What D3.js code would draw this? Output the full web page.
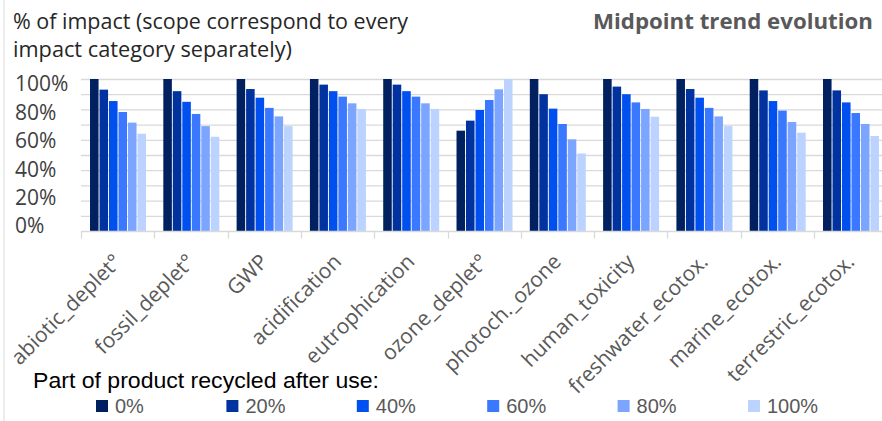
<!DOCTYPE html>
<html><head><meta charset="utf-8">
<script src="https://cdn.jsdelivr.net/npm/d3@7"></script>
<style>body{margin:0;background:#fff}svg{display:block}</style>
</head><body>
<svg id="c" width="882" height="421"></svg>
<script>
const categories = ["abiotic_deplet°","fossil_deplet°","GWP","acidification","eutrophication","ozone_deplet°","photoch._ozone","human_toxicity","freshwater_ecotox.","marine_ecotox.","terrestric_ecotox."];
const seriesNames = ["0%","20%","40%","60%","80%","100%"];
const s0   = [100,100,100,100,100,66,100,100,100,100,100];
const s20  = [93,92,93.4,96.3,96.3,72.6,90,95,93.4,92.5,92.5];
const s40  = [85.5,85,87.7,92,92,79.6,80.5,90,87.7,85.5,84.6];
const s60  = [78.3,77,81,88.4,88.4,86.2,70.4,84.6,81,79.2,77.6];
const s80  = [71.3,69,75.4,84,84,93.2,60.3,80.3,75.4,71.7,70.4];
const s100 = [64,62,69,80.3,80.3,100,51,75.2,69,64.7,62.5];
const yTicks = [0,20,40,60,80,100];
const colors = ["#002060","#0033A0","#0050F0","#3A78FF","#7CA5FF","#BDD3FF"];
const series = [s0,s20,s40,s60,s80,s100];

const svg = d3.select("#c");
const font = "'Open Sans', sans-serif";
const lfont = "'Liberation Sans', Arial, sans-serif";

const y = d3.scaleLinear().domain([0,100]).range([231,79]);
const yLab = d3.scaleLinear().domain([0,100]).range([226,84]);
const x0 = d3.scaleBand().domain(categories).range([81,887.3]).padding(0);
const bw = x0.bandwidth();
const x1 = d3.scaleBand().domain(seriesNames).range([bw*0.123, bw*0.887]).paddingInner(0.1);

// left border
svg.append("line").attr("x1",4).attr("x2",4).attr("y1",0).attr("y2",421).attr("stroke","#D9D9D9");

// gridlines
svg.append("g").selectAll("line").data(d3.range(10,101,10)).join("line")
  .attr("x1",81).attr("x2",887).attr("y1",d=>y(d)+0.5).attr("y2",d=>y(d)+0.5)
  .attr("stroke","#D9D9D9").attr("stroke-width",1.3);

// y labels
svg.append("g").selectAll("text").data(yTicks).join("text")
  .attr("x",15).attr("y",d=>yLab(d)).attr("dy","0.35em")
  .attr("font-family",font).attr("font-size",21).attr("fill","#404040")
  .text(d=>d+"%");

// bars
const g = svg.append("g").selectAll("g").data(categories).join("g")
  .attr("transform",d=>`translate(${x0(d)},0)`);
g.selectAll("rect").data((c,i)=>series.map((s,k)=>({k, v:s[i]}))).join("rect")
  .attr("x",d=>x1(seriesNames[d.k])).attr("width",x1.bandwidth())
  .attr("y",d=>y(d.v)).attr("height",d=>y(0)-y(d.v))
  .attr("fill",d=>colors[d.k]);

// x axis
const xAxis = svg.append("g").attr("transform","translate(0,231.5)");
xAxis.append("line").attr("x1",81).attr("x2",887).attr("stroke","#D9D9D9").attr("stroke-width",1.3);
xAxis.selectAll("line.t").data(categories.map(c=>x0(c))).join("line").attr("class","t")
  .attr("x1",d=>Math.round(d)+0.5).attr("x2",d=>Math.round(d)+0.5).attr("y1",0).attr("y2",7)
  .attr("stroke","#D9D9D9").attr("stroke-width",1.3);
xAxis.selectAll("text").data(categories).join("text")
  .attr("transform",d=>`translate(${x0(d)+bw/2+5},31.5) rotate(-45)`)
  .attr("text-anchor","end")
  .attr("font-family",font).attr("font-size",21).attr("fill","#595959")
  .text(d=>d);

// titles
const t1 = svg.append("text").attr("font-family",font).attr("font-size",21).attr("fill","#262626");
t1.append("tspan").attr("x",13).attr("y",29).attr("textLength",395).attr("lengthAdjust","spacingAndGlyphs").text("% of impact (scope correspond to every");
t1.append("tspan").attr("x",13).attr("y",57).attr("textLength",279).attr("lengthAdjust","spacingAndGlyphs").text("impact category separately)");
svg.append("text").attr("x",593).attr("y",29).attr("font-family",font).attr("font-size",21)
  .attr("font-weight","bold").attr("fill","#595959").attr("textLength",280).attr("lengthAdjust","spacingAndGlyphs")
  .text("Midpoint trend evolution");

// legend
svg.append("text").attr("x",33).attr("y",388).attr("font-family",lfont)
  .attr("font-size",22).attr("fill","#000").attr("textLength",346).attr("lengthAdjust","spacingAndGlyphs")
  .text("Part of product recycled after use:");
const lg = svg.append("g").selectAll("g").data(seriesNames).join("g")
  .attr("transform",(d,i)=>`translate(${96+i*130.4},400)`);
lg.append("rect").attr("width",12).attr("height",12).attr("fill",(d,i)=>colors[i]);
lg.append("text").attr("x",19).attr("y",12.5)
  .attr("font-family",lfont).attr("font-size",20).attr("fill","#595959").text(d=>d);
</script>
</body></html>
